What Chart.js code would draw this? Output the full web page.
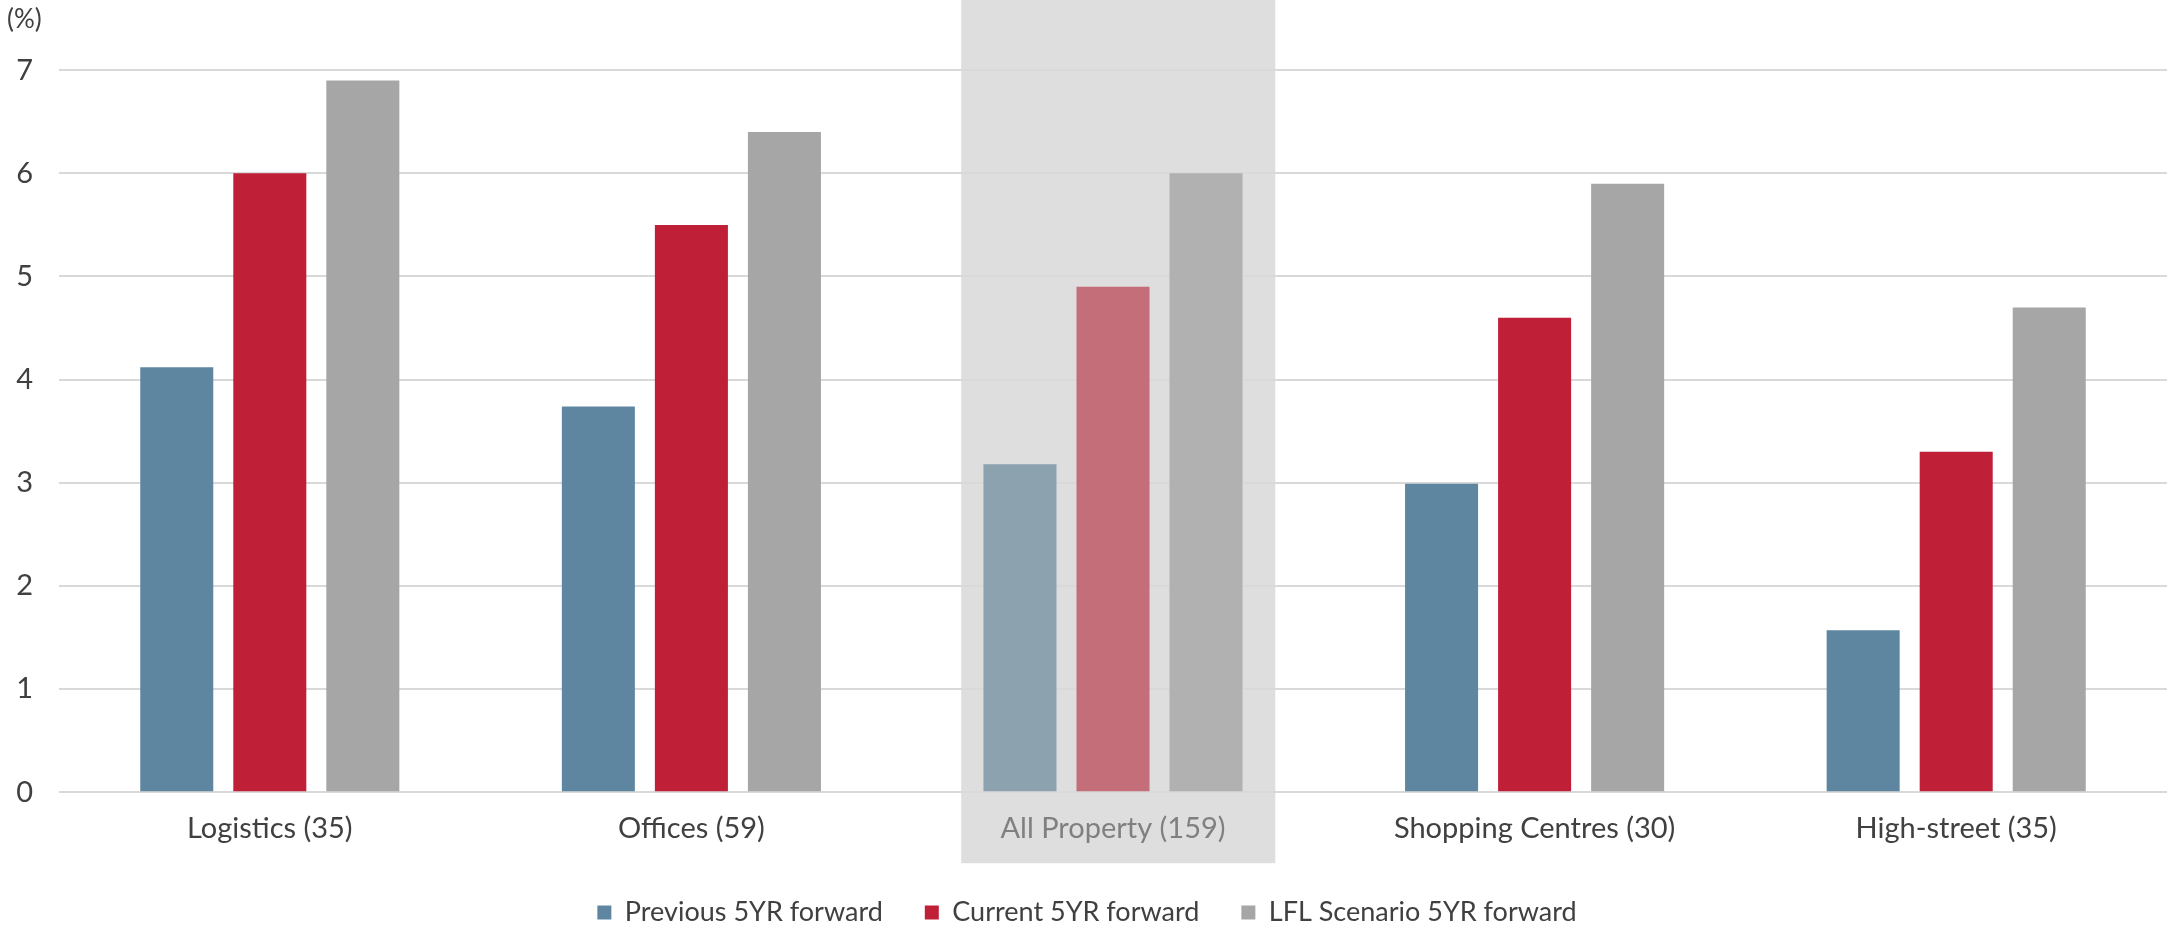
<!DOCTYPE html>
<html>
<head>
<meta charset="utf-8">
<script src="https://cdn.jsdelivr.net/npm/chart.js@4.4.1/dist/chart.umd.min.js"></script>
<style>
  html, body { margin: 0; padding: 0; background: #fff; }
</style>
</head>
<body>
<canvas id="myChart" width="2170" height="927"></canvas>
<script>
var categories = ['Logistics (35)', 'Offices (59)', 'All Property (159)', 'Shopping Centres (30)', 'High-street (35)'];
var previous5yr = [4.12, 3.74, 3.18, 2.99, 1.57];
var current5yr = [6.0, 5.5, 4.9, 4.6, 3.3];
var lflScenario5yr = [6.9, 6.4, 6.0, 5.9, 4.7];
var yTicks = [0, 1, 2, 3, 4, 5, 6, 7];
var highlightIndex = 2;

var FONT = 'Lato, "Liberation Sans", sans-serif';

// colours for normal bars and for the shaded "All Property" group
function colours(base, faded) {
    return categories.map(function (c, i) { return i === highlightIndex ? faded : base; });
}

var highlightBand = {
    id: 'highlightBand',
    beforeDraw: function (chart) {
        var x = chart.scales.x;
        var ctx = chart.ctx;
        var w = (x.right - x.left) / categories.length;
        var cx = x.getPixelForValue(highlightIndex);
        ctx.save();
        ctx.fillStyle = '#dedede';
        ctx.fillRect(cx - 0.36 * w, 0, 0.745 * w, chart.chartArea.bottom + 71);
        ctx.restore();
    }
};

var yData = {
    labels: categories,
    datasets: [{
        label: 'Previous 5YR forward',
        data: previous5yr,
        backgroundColor: colours('#5e86a0', '#8ca2af')
    }, {
        label: 'Current 5YR forward',
        data: current5yr,
        backgroundColor: colours('#c01f38', '#c36e79')
    }, {
        label: 'LFL Scenario 5YR forward',
        data: lflScenario5yr,
        backgroundColor: colours('#a6a6a6', '#b1b1b1')
    }]
};

new Chart('myChart', {
    type: 'bar',
    data: yData,
    plugins: [highlightBand],
    options: {
        responsive: false,
        animation: false,
        categoryPercentage: 0.662,
        barPercentage: 0.785,
        layout: {
            padding: { left: 7, right: 3, top: 0, bottom: -9 }
        },
        plugins: {
            tooltip: { enabled: false },
            title: {
                display: true,
                text: '(%)',
                align: 'start',
                color: '#404040',
                font: { family: FONT, size: 26, weight: 'normal' },
                padding: { top: 4, bottom: 35 }
            },
            legend: {
                position: 'bottom',
                labels: {
                    color: '#404040',
                    font: { family: FONT, size: 27 },
                    boxWidth: 14,
                    boxHeight: 14,
                    padding: 42
                }
            }
        },
        scales: {
            x: {
                grid: { display: false },
                border: { display: false },
                ticks: {
                    color: categories.map(function (c, i) { return i === highlightIndex ? '#808080' : '#404040'; }),
                    font: { family: FONT, size: 29 },
                    padding: 11,
                    maxRotation: 0
                }
            },
            y: {
                min: 0,
                max: 7,
                afterFit: function (scale) { scale.width = 52; },
                afterBuildTicks: function (scale) {
                    scale.ticks = yTicks.map(function (v) { return { value: v }; });
                },
                grid: { color: '#d9d9d9', lineWidth: 2, drawTicks: false },
                border: { display: false },
                ticks: {
                    color: '#404040',
                    font: { family: FONT, size: 29 },
                    padding: 26
                }
            }
        }
    }
});
</script>
</body>
</html>
